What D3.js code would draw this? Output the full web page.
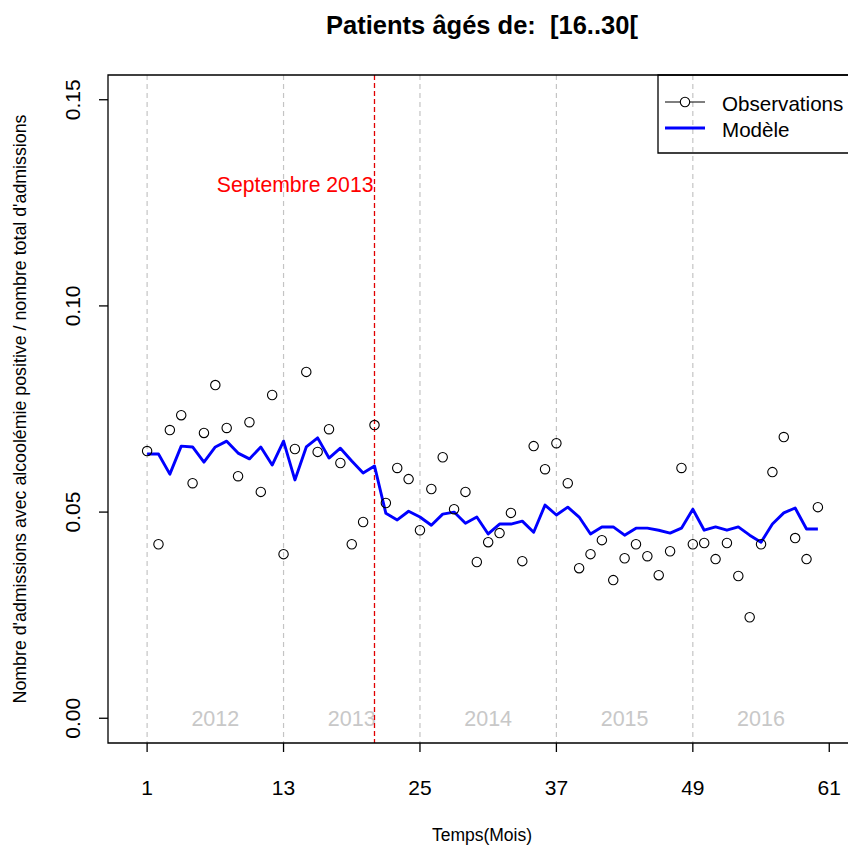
<!DOCTYPE html>
<html><head><meta charset="utf-8">
<script src="https://cdn.jsdelivr.net/npm/d3@7"></script>
<style>body{margin:0;background:#fff;} svg{display:block;font-family:"Liberation Sans",Arial,sans-serif;} text{white-space:pre;}</style>
</head><body>
<script>
const months = d3.range(1, 61);
const observations = [0.0648,0.0422,0.0699,0.0735,0.0570,0.0692,0.0808,0.0704,0.0587,0.0718,
0.0549,0.0784,0.0398,0.0653,0.0840,0.0646,0.0701,0.0619,0.0422,0.0476,
0.0711,0.0522,0.0607,0.0580,0.0456,0.0556,0.0633,0.0507,0.0549,0.0379,
0.0427,0.0449,0.0498,0.0381,0.0660,0.0604,0.0667,0.0570,0.0364,0.0398,
0.0432,0.0335,0.0388,0.0422,0.0393,0.0347,0.0405,0.0607,0.0422,0.0425,
0.0386,0.0425,0.0345,0.0245,0.0422,0.0597,0.0682,0.0437,0.0386,0.0512];
const model = [0.0641,0.0641,0.0592,0.0660,0.0658,0.0621,0.0658,0.0672,0.0643,0.0629,
0.0658,0.0614,0.0672,0.0578,0.0658,0.0680,0.0631,0.0655,0.0624,0.0595,
0.0612,0.0497,0.0481,0.0502,0.0488,0.0468,0.0495,0.0500,0.0473,0.0488,
0.0447,0.0471,0.0471,0.0478,0.0451,0.0517,0.0493,0.0512,0.0488,0.0447,
0.0464,0.0464,0.0444,0.0461,0.0461,0.0456,0.0449,0.0461,0.0507,0.0456,
0.0464,0.0456,0.0464,0.0444,0.0427,0.0471,0.0498,0.0510,0.0459,0.0459];
const xTicks = [1, 13, 25, 37, 49, 61];
const yTicks = [0, 0.05, 0.10, 0.15];
const yearLabels = ["2012","2013","2014","2015","2016"];
const yearPositions = [7, 19, 31, 43, 55];
const yearLines = [1, 13, 25, 37, 49];
const interventionMonth = 21;

const W = 848, H = 847;
const svg = d3.select("body").append("svg").attr("width", W).attr("height", H);
const pLeft = 108, pTop = 75, pBottom = 743;
const x = d3.scaleLinear().domain([-2.44, 63.44]).range([pLeft, 857]);
const y = d3.scaleLinear().domain([-0.006, 0.156]).range([pBottom, pTop]);

svg.selectAll(".yl").data(yearLines).enter().append("line")
  .attr("x1", d => x(d)).attr("x2", d => x(d)).attr("y1", pTop).attr("y2", pBottom)
  .attr("stroke", "#c4c4c4").attr("stroke-width", 1.2).attr("stroke-dasharray", "5,4");
svg.selectAll(".yt").data(yearLabels).enter().append("text")
  .attr("x", (d, i) => x(yearPositions[i])).attr("y", y(0) + 7.5)
  .attr("text-anchor", "middle").attr("font-size", 21.5).attr("fill", "#c8c8c8").text(d => d);
svg.append("line").attr("x1", x(interventionMonth)).attr("x2", x(interventionMonth))
  .attr("y1", pTop).attr("y2", pBottom).attr("stroke", "#e00000").attr("stroke-width", 1.3).attr("stroke-dasharray", "5,3");
svg.append("text").attr("x", x(interventionMonth) - 1).attr("y", 191.5)
  .attr("text-anchor", "end").attr("font-size", 21.2).attr("fill", "#ff0000").text("Septembre 2013");

svg.append("path").datum(model)
  .attr("d", d3.line().x((d, i) => x(months[i])).y(d => y(d)))
  .attr("fill", "none").attr("stroke", "#0000ff").attr("stroke-width", 2.9).attr("stroke-linejoin", "round");
svg.selectAll(".pt").data(observations).enter().append("circle")
  .attr("cx", (d, i) => x(months[i])).attr("cy", d => y(d)).attr("r", 4.7)
  .attr("fill", "none").attr("stroke", "#000").attr("stroke-width", 1.1);

svg.append("path").attr("d", `M${W + 5},${pTop}H${pLeft}V${pBottom}H${W + 5}`)
  .attr("fill", "none").attr("stroke", "#000").attr("stroke-width", 1.3);

const xa = svg.append("g");
xTicks.forEach(t => {
  xa.append("line").attr("x1", x(t)).attr("x2", x(t)).attr("y1", pBottom).attr("y2", pBottom + 9).attr("stroke", "#000").attr("stroke-width", 1.3);
  xa.append("text").attr("x", x(t)).attr("y", 795).attr("text-anchor", "middle").attr("font-size", 21).text(t);
});
const ya = svg.append("g");
yTicks.forEach(t => {
  ya.append("line").attr("x1", pLeft - 9).attr("x2", pLeft).attr("y1", y(t)).attr("y2", y(t)).attr("stroke", "#000").attr("stroke-width", 1.3);
  ya.append("text").attr("transform", `translate(79.5,${y(t)}) rotate(-90)`).attr("text-anchor", "middle")
    .attr("font-size", 21).text(d3.format(".2f")(t));
});
svg.append("text").attr("x", 482).attr("y", 34).attr("text-anchor", "middle").attr("font-size", 25.5)
  .attr("font-weight", "bold").text("Patients âgés de:  [16..30[");
svg.append("text").attr("x", 482).attr("y", 841).attr("text-anchor", "middle").attr("font-size", 17.5).text("Temps(Mois)");
svg.append("text").attr("transform", `translate(26,${(pTop + pBottom) / 2}) rotate(-90)`).attr("text-anchor", "middle")
  .attr("font-size", 17.8).text("Nombre d'admissions avec alcoolémie positive / nombre total d'admissions");

const lg = svg.append("g");
lg.append("path").attr("d", `M${W + 5},${pTop}H658V153H${W + 5}`).attr("fill", "none").attr("stroke", "#000").attr("stroke-width", 1.3);
lg.append("line").attr("x1", 665).attr("x2", 705).attr("y1", 102).attr("y2", 102).attr("stroke", "#000").attr("stroke-width", 1.1);
lg.append("circle").attr("cx", 685).attr("cy", 102).attr("r", 4.7).attr("fill", "#fff").attr("stroke", "#000").attr("stroke-width", 1.1);
lg.append("line").attr("x1", 665).attr("x2", 705).attr("y1", 128).attr("y2", 128).attr("stroke", "#0000ff").attr("stroke-width", 2.9);
lg.append("text").attr("x", 722).attr("y", 110.5).attr("font-size", 20.6).text("Observations");
lg.append("text").attr("x", 722).attr("y", 136.5).attr("font-size", 20.6).text("Modèle");
</script>
</body></html>
